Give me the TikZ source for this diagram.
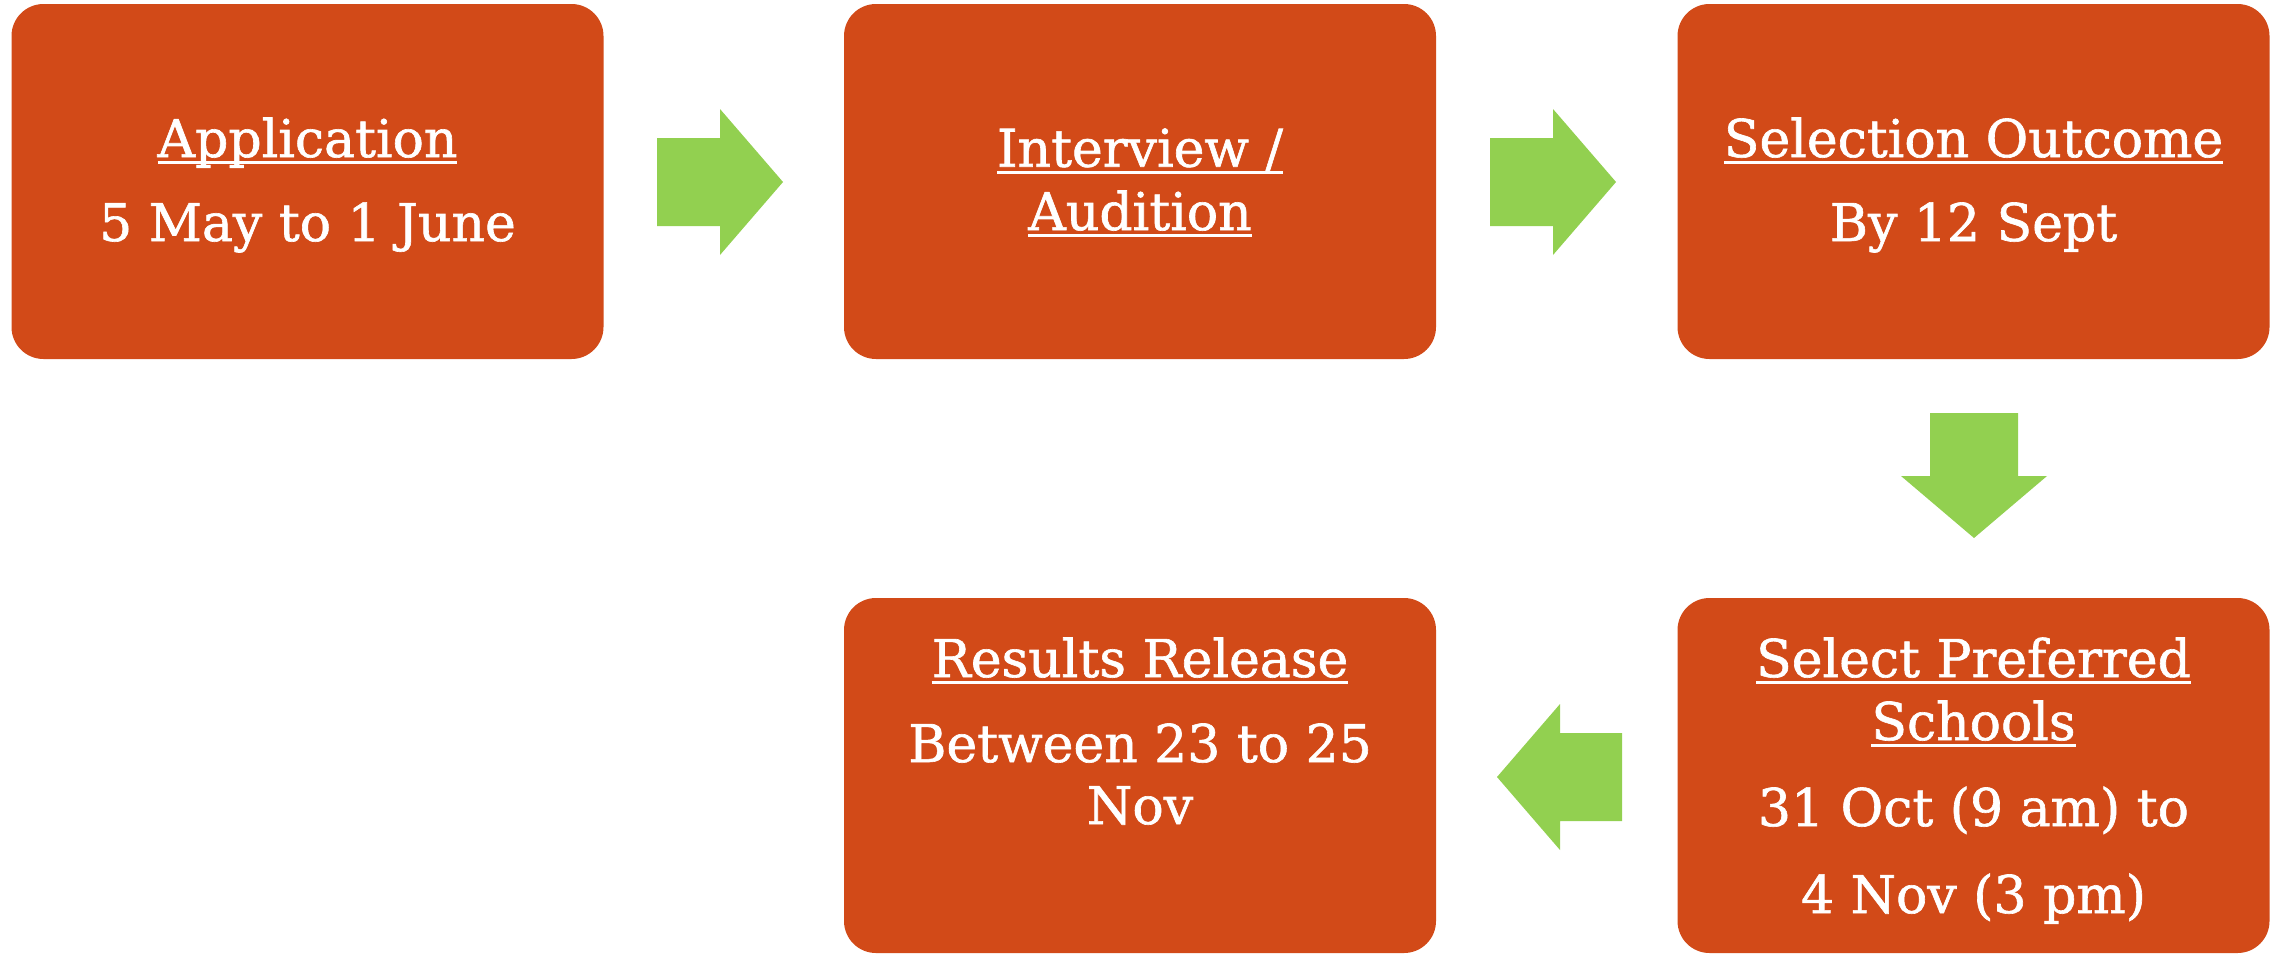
\documentclass[tikz,border=0pt]{standalone}
\usepackage{fontspec}
\setmainfont{DejaVu Serif}
\newfontfamily\lblfont{DejaVu Serif}[FakeBold=1.2]
\definecolor{boxred}{HTML}{D24A18}
\definecolor{arrgreen}{HTML}{92D050}
\newcommand\myul[1]{\setbox0\hbox{#1}\rlap{\rule[-7pt]{\wd0}{2.8pt}}\box0}
\begin{document}
\begin{tikzpicture}[x=1pt,y=-1pt,
  stage/.style={fill=boxred, draw=none, rounded corners=32pt, minimum width=592pt, minimum height=355pt, inner sep=0pt},
  lbl/.style={text=white, anchor=base, font=\lblfont\fontsize{52}{62}\selectfont, inner sep=0pt},
  flow/.style={fill=arrgreen, draw=none}]
\fill[white] (0,0) rectangle (2277,953);
\useasboundingbox (0,0) rectangle (2277,953);
% stage boxes
\node[stage] (app) at (307.5,181.5) {};
\node[stage] (int) at (1140,181.5) {};
\node[stage] (sel) at (1973.5,181.5) {};
\node[stage] (res) at (1140,775.5) {};
\node[stage] (pref) at (1973.5,775.5) {};
% block arrows
\fill[flow] (657,138) -- (720,138) -- (720,109) -- (783,182) -- (720,255) -- (720,226) -- (657,226) -- cycle;
\fill[flow] (1490,138) -- (1553,138) -- (1553,109) -- (1616,182) -- (1553,255) -- (1553,226) -- (1490,226) -- cycle;
\fill[flow] (1930,413) -- (2018,413) -- (2018,476) -- (2047,476) -- (1974,538) -- (1901,476) -- (1930,476) -- cycle;
\fill[flow] (1622,733) -- (1560,733) -- (1560,704) -- (1497,777) -- (1560,850) -- (1560,821) -- (1622,821) -- cycle;
% texts
\node[lbl] (t1a) at (307.5,157) {\myul{Application}};
\node[lbl] (t1b) at (307.5,241) {5 May to 1 June};
\node[lbl] (t2a) at (1140,166.7) {\myul{Interview /}};
\node[lbl] (t2b) at (1140,230) {\myul{Audition}};
\node[lbl] (t3a) at (1973.5,157) {\myul{Selection Outcome}};
\node[lbl] (t3b) at (1973.5,241) {By 12 Sept};
\node[lbl] (t4a) at (1140,677) {\myul{Results Release}};
\node[lbl] (t4b) at (1140,762) {Between 23 to 25};
\node[lbl] (t4c) at (1140,824) {Nov};
\node[lbl] (t5a) at (1973.5,677) {\myul{Select Preferred}};
\node[lbl] (t5b) at (1973.5,740) {\myul{Schools}};
\node[lbl] (t5c) at (1973.5,826) {31 Oct (9 am) to};
\node[lbl] (t5d) at (1973.5,913) {4 Nov (3 pm)};
\end{tikzpicture}
\end{document}
